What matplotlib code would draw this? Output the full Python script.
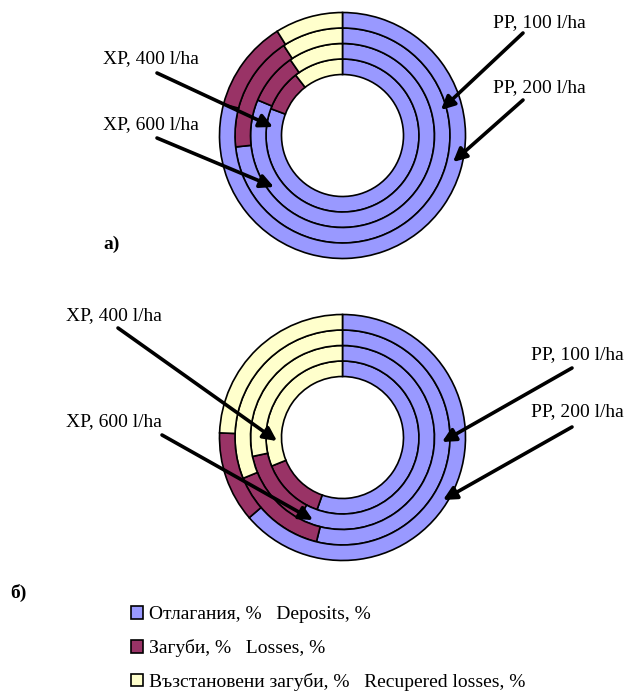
import matplotlib
matplotlib.use("Agg")
import matplotlib.pyplot as plt

# ── Данни ─────────────────────────────────────────────────────────────────────
# пръстени отвътре навън: XP 400, XP 600, PP 100, PP 200
rings = ["XP, 400 l/ha", "XP, 600 l/ha", "PP, 100 l/ha", "PP, 200 l/ha"]

deposits_a = [80.7, 81.3, 73.3, 79.1]
losses_a   = [8.8, 9.1, 17.5, 12.0]
recup_a    = [10.5, 9.6, 9.2, 8.9]

deposits_b = [55.4, 57.8, 53.9, 63.7]
losses_b   = [13.5, 13.9, 14.9, 11.9]
recup_b    = [31.1, 28.3, 31.2, 24.4]

legend_labels = ["Отлагания, %   Deposits, %",
                 "Загуби, %   Losses, %",
                 "Възстановени загуби, %   Recupered losses, %"]
colors = ["#9999FF", "#993366", "#FFFFCC"]

# ── Фигура в пиксели ──────────────────────────────────────────────────────────
W, H = 629, 695
fig = plt.figure(figsize=(W / 100, H / 100), dpi=100)
ax = fig.add_axes([0, 0, 1, 1])

FONT = "Liberation Serif"
FS = 14
R_HOLE, R_OUT = 61, 123
w = (R_OUT - R_HOLE) / len(rings)


def donut(center, dep, los, rec):
    handles = None
    for i in range(len(rings)):
        wedges, _ = ax.pie([dep[i], los[i], rec[i]], colors=colors,
                           center=center, radius=R_HOLE + (i + 1) * w,
                           startangle=-90, counterclock=True,
                           wedgeprops=dict(width=w, edgecolor="black", linewidth=1.2))
        handles = wedges
    return handles


handles = donut((342.5, 135.5), deposits_a, losses_a, recup_a)
donut((342.5, 437.5), deposits_b, losses_b, recup_b)

ax.set_xlim(0, W)
ax.set_ylim(H, 0)
ax.set_aspect("equal")
ax.axis("off")

arrow = dict(arrowstyle="-|>", color="black", lw=2.6, mutation_scale=20,
             shrinkA=0, shrinkB=0)


def label(text, tx, ty, start, tip):
    ax.text(tx, ty, text, fontsize=FS, family=FONT, va="center", ha="left")
    ax.annotate("", xy=tip, xytext=start, arrowprops=arrow)


# а)
label(rings[0], 103, 59, (157, 73), (273, 127))
label(rings[1], 103, 125, (157, 138), (274, 187))
label(rings[2], 493, 23, (523, 33), (441, 110))
label(rings[3], 493, 88, (523, 100), (453, 162))
ax.text(103, 244, "а)", fontsize=FS, family=FONT, weight="bold", va="center")

# б)
label(rings[0], 66, 316, (118, 328), (277, 441))
label(rings[1], 66, 422, (162, 435), (313, 520))
label(rings[2], 531, 355, (572, 368), (442, 442))
label(rings[3], 531, 412, (572, 427), (443, 500))
ax.text(10, 593, "б)", fontsize=FS, family=FONT, weight="bold", va="center")

leg = ax.legend(handles, legend_labels, loc="upper left",
                bbox_to_anchor=(131 / W, 1 - 606 / H), frameon=False,
                prop=dict(family=FONT, size=FS), handlelength=0.62,
                handleheight=0.62, handletextpad=0.3, labelspacing=0.82,
                borderpad=0, borderaxespad=0)

fig.savefig("out.png", dpi=100)
